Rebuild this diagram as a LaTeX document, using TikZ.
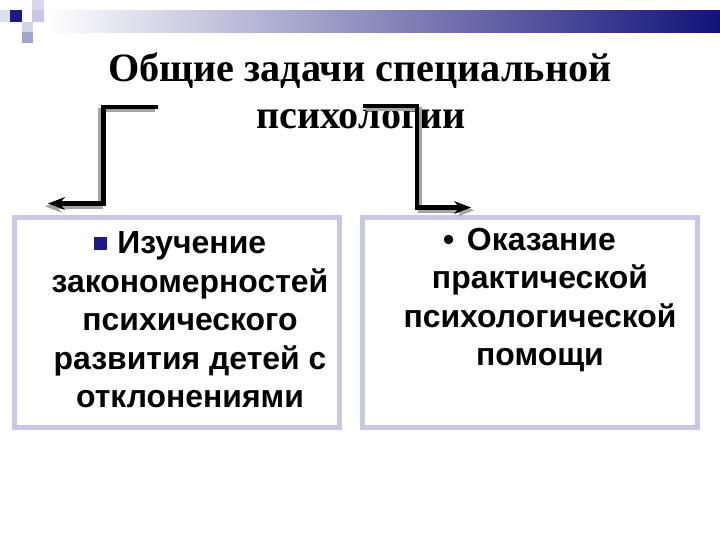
\documentclass[tikz,border=0pt]{standalone}
\usepackage{fontspec}
\setmainfont{Liberation Serif}
\setsansfont{Liberation Sans}
\usetikzlibrary{arrows.meta}
\definecolor{frame}{HTML}{C8C8E6}
\definecolor{navy}{HTML}{1A1A8A}
\definecolor{shadowgray}{HTML}{A4A4A4}
\definecolor{barmid}{HTML}{A9A9BC}
\definecolor{barend}{HTML}{12127A}

\begin{document}
\begin{tikzpicture}[x=0.025cm, y=-0.025cm,
  box/.style={draw=frame, line width=3.5pt, fill=white, inner sep=0pt},
  boxtext/.style={font=\sffamily\bfseries\fontsize{22.7}{27.4}\selectfont, align=center},
  titletext/.style={font=\bfseries\fontsize{28.6}{33}\selectfont, anchor=base},
  conn/.style={line width=3.2pt, -{Stealth[length=12pt,width=9pt]}}]
  \useasboundingbox (0,0) rectangle (720,540);
  % header bar and squares
  \shade[left color=white, middle color=barmid, right color=barend] (45,10) rectangle (720,32);
  \fill[frame!60] (0,10) rectangle (10,22);
  \fill[navy] (10,10) rectangle (22,22);
  \fill[frame!70] (32,0) rectangle (44,10);
  \fill[frame] (32,10) rectangle (44,22);
  \fill[frame!80] (22,22) rectangle (33,32);
  \fill[navy!40] (22,32) rectangle (33,43);
  % title
  \node[titletext] (title) at (360,81) {Общие задачи специальной};
  \node[titletext] (title2) at (361,128) {психологии};
  % boxes
  \node[box, minimum width=8.125cm, minimum height=5.25cm] (lbox) at (177,322.5) {};
  \node[box, minimum width=8.375cm, minimum height=5.25cm] (rbox) at (530,322.5) {};
  \node[boxtext] (ltext) at (190,320)
    {\textcolor{navy}{\raisebox{3pt}{\rule{9pt}{9pt}}}\hspace{7.5pt}Изучение\hspace*{14pt}\\закономерностей\\психического\\развития детей с\\отклонениями};
  \node[boxtext] (rtext) at (540,300)
    {•\hspace{9pt}Оказание\hspace*{15pt}\\практической\\психологической\\помощи};
  % connectors
  \coordinate (lstart) at (158,107);
  \coordinate (lcorner) at (103.5,107);
  \coordinate (lbend) at (103.5,203.5);
  \coordinate (ltip) at (48,203.5);
  \coordinate (rstart) at (363,106);
  \coordinate (rcorner) at (417,106);
  \coordinate (rbend) at (417,207.5);
  \coordinate (rtip) at (471,207.5);
  \draw[conn, shadowgray, transform canvas={xshift=-2.2pt, yshift=-2pt}]
    (lstart) -- (lcorner) -- (lbend) -- (ltip);
  \draw[conn, shadowgray, transform canvas={xshift=2.2pt, yshift=-2pt}]
    (rstart) -- (rcorner) -- (rbend) -- (rtip);
  \draw[conn] (lstart) -- (lcorner) -- (lbend) -- (ltip);
  \draw[conn] (rstart) -- (rcorner) -- (rbend) -- (rtip);
\end{tikzpicture}
\end{document}
